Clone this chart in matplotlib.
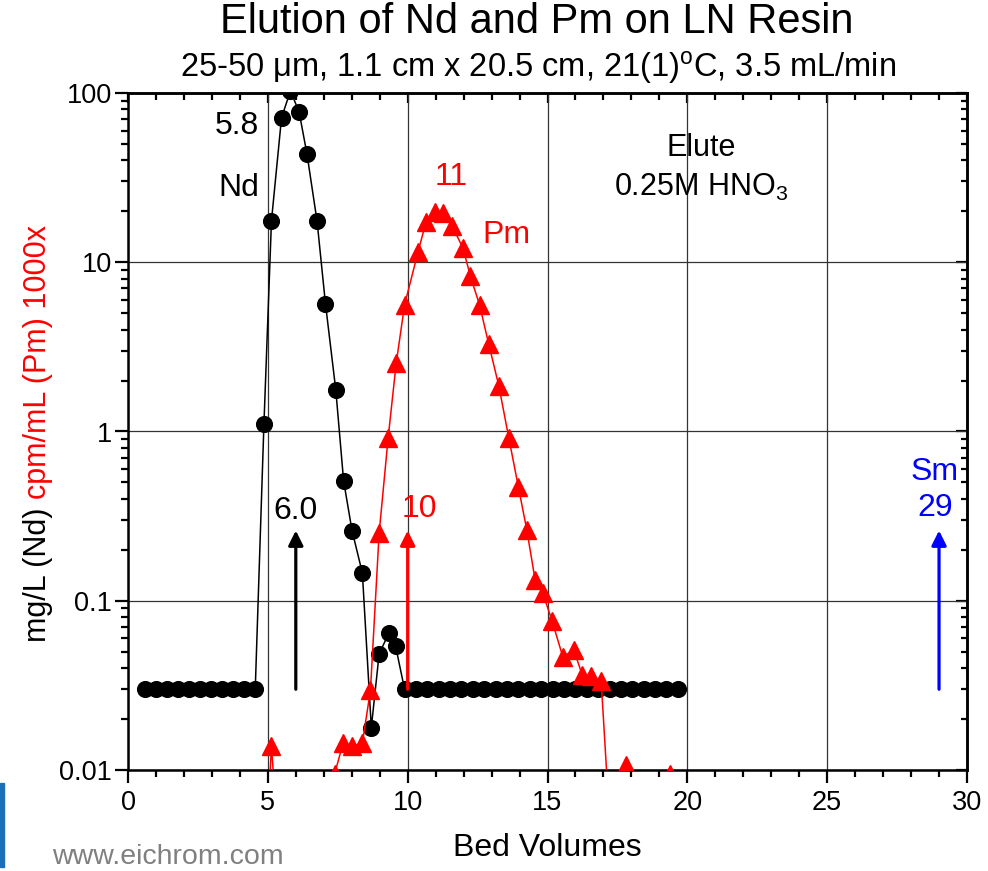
import numpy as np
import matplotlib.pyplot as plt
from matplotlib.ticker import FixedLocator, MultipleLocator, FuncFormatter
from matplotlib.patches import Rectangle

plt.rcParams['font.family'] = ['Liberation Sans', 'DejaVu Sans']
plt.rcParams['mathtext.fontset'] = 'custom'
plt.rcParams['mathtext.rm'] = 'Liberation Sans'
plt.rcParams['mathtext.it'] = 'Liberation Sans:italic'

# Nd (mg/L) vs bed volumes
nd_bv = [0.60, 1.00, 1.39, 1.79, 2.18, 2.58, 2.97, 3.37, 3.76, 4.16, 4.55,
         4.86, 5.13, 5.49, 5.81, 6.12, 6.40, 6.76, 7.06, 7.43, 7.71, 8.01,
         8.38, 8.70, 8.98, 9.33, 9.57, 9.89,
         10.30, 10.70, 11.11, 11.52, 11.92, 12.33, 12.74, 13.15, 13.55, 13.96,
         14.37, 14.77, 15.18, 15.59, 15.99, 16.40, 16.81, 17.22, 17.62, 18.03,
         18.44, 18.84, 19.25, 19.66]
nd_conc = [0.03, 0.03, 0.03, 0.03, 0.03, 0.03, 0.03, 0.03, 0.03, 0.03, 0.03,
           1.1, 17.6, 71.5, 103, 77, 43.6, 17.5, 5.7, 1.76, 0.51, 0.26,
           0.146, 0.0178, 0.0486, 0.0644, 0.0537, 0.03,
           0.03, 0.03, 0.03, 0.03, 0.03, 0.03, 0.03, 0.03, 0.03, 0.03,
           0.03, 0.03, 0.03, 0.03, 0.03, 0.03, 0.03, 0.03, 0.03, 0.03,
           0.03, 0.03, 0.03, 0.03]

# Pm (cpm/mL, x1000) vs bed volumes
pm_bv = [4.86, 5.13, 5.49, 7.39, 7.69, 8.01, 8.38, 8.67, 8.98, 9.30, 9.59,
         9.89, 10.37, 10.66, 10.96, 11.26, 11.59, 11.98, 12.24, 12.57, 12.90,
         13.26, 13.62, 13.96, 14.26, 14.56, 14.83, 15.17, 15.55, 15.94, 16.24,
         16.56, 16.92, 17.30, 17.81, 18.60, 19.38]
pm_act = [0.002, 0.0138, 0.002, 0.0095, 0.0144, 0.0138, 0.0144, 0.0297, 0.251,
          0.91, 2.53, 5.6, 11.5, 17.4, 19.9, 19.6, 16.4, 12.1, 8.3, 5.6, 3.28,
          1.86, 0.91, 0.469, 0.262, 0.132, 0.111, 0.0755, 0.0465, 0.0513,
          0.0365, 0.036, 0.0334, 0.003, 0.0107, 0.002, 0.0095]

# peak arrows (bed volume of peak maximum)
arrow_bv = [6.0, 10.0, 29.0]
arrow_col = ['black', 'red', 'blue']

fig = plt.figure(figsize=(9.88, 8.71), dpi=100)
ax = fig.add_axes([128/988, 101/871, 839/988, 677/871])

ax.plot(nd_bv, nd_conc, color='black', lw=1.1, marker='o', ms=11.3,
        zorder=3)
ax.plot(pm_bv, pm_act, color='red', lw=1.1, marker='^', ms=13,
        mec='red', zorder=4)

for xb, c in zip(arrow_bv, arrow_col):
    ax.annotate('', xy=(xb, 0.26), xytext=(xb, 0.03),
                arrowprops=dict(arrowstyle='-|>', color=c, lw=2.3,
                                mutation_scale=22, shrinkA=0, shrinkB=0),
                zorder=5)

ax.set_yscale('log')
ax.set_xlim(0, 30)
ax.set_ylim(0.01, 100)
ax.xaxis.set_major_locator(MultipleLocator(5))
ax.xaxis.set_minor_locator(MultipleLocator(1))
ax.yaxis.set_major_formatter(FuncFormatter(lambda v, p: '%g' % v))
ax.grid(True, which='major', color='#333333', lw=0.9)
ax.set_axisbelow(True)
for s in ax.spines.values():
    s.set_linewidth(1.8)
ax.tick_params(which='both', direction='out', width=1.6, labelsize=19.5,
               top=False, right=False)
ax.tick_params(which='major', length=9.5)
ax.tick_params(which='minor', length=5)
ax.tick_params(axis='x', pad=5)
ax.tick_params(axis='y', pad=2)

top = ax.secondary_xaxis('top')
top.xaxis.set_major_locator(MultipleLocator(5))
top.xaxis.set_minor_locator(MultipleLocator(1))
top.tick_params(which='both', direction='in', width=1.6, labeltop=False)
top.tick_params(which='major', length=7)
top.tick_params(which='minor', length=5)
right = ax.secondary_yaxis('right')
right.tick_params(which='both', direction='in', width=1.6, labelright=False)
right.tick_params(which='major', length=8)
right.tick_params(which='minor', length=4.5)
for s in list(top.spines.values()) + list(right.spines.values()):
    s.set_linewidth(1.8)

ax.set_xlabel('Bed Volumes', fontsize=23, labelpad=12)

# annotations
ax.text(3.9, 64, '5.8', fontsize=23, ha='center', va='center')
ax.text(3.96, 27.5, 'Nd', fontsize=23, ha='center', va='center')
ax.text(6.0, 0.34, '6.0', fontsize=23, ha='center', va='center')
ax.text(10.43, 0.35, '10', fontsize=23, ha='center', va='center', color='red')
ax.text(11.57, 31.9, '11', fontsize=23, ha='center', va='center', color='red')
ax.text(13.54, 14.5, 'Pm', fontsize=23, ha='center', va='center', color='red')
ax.text(20.5, 47, 'Elute', fontsize=22, ha='center', va='center')
ax.text(20.5, 27.5, '0.25M HNO$_3$', fontsize=22, ha='center', va='center')
ax.text(28.85, 0.45, 'Sm\n29', fontsize=23, ha='center', va='center',
        color='blue', linespacing=1.25)

fig.text(537/988, 1 - 22/871, 'Elution of Nd and Pm on LN Resin',
         fontsize=30, ha='center', va='center')
fig.text(538/988, 1 - 67/871,
         '25-50 \u03bcm, 1.1 cm x 20.5 cm, 21(1)$^\\mathrm{o}$C, 3.5 mL/min',
         fontsize=23.5, ha='center', va='center')

# two-coloured y label
ylx = 38/988
y0 = (871 - 642)/871
t1 = fig.text(ylx, y0, 'mg/L (Nd) ', rotation=90, fontsize=22,
              ha='center', va='bottom', color='black')
fig.canvas.draw()
bb = t1.get_window_extent(fig.canvas.get_renderer())
fig.text(ylx, y0 + bb.height/fig.bbox.height, 'cpm/mL (Pm) 1000x',
         rotation=90, fontsize=22, ha='center', va='bottom', color='red')

fig.text(52/988, 1 - 857/871, 'www.eichrom.com', fontsize=20.5,
         color='#808080', ha='left', va='center')
fig.patches.append(Rectangle((0, 4/871), 4/988, 84/871,
                             transform=fig.transFigure, color='#1a6fb8'))

fig.savefig('out.png', dpi=100)
